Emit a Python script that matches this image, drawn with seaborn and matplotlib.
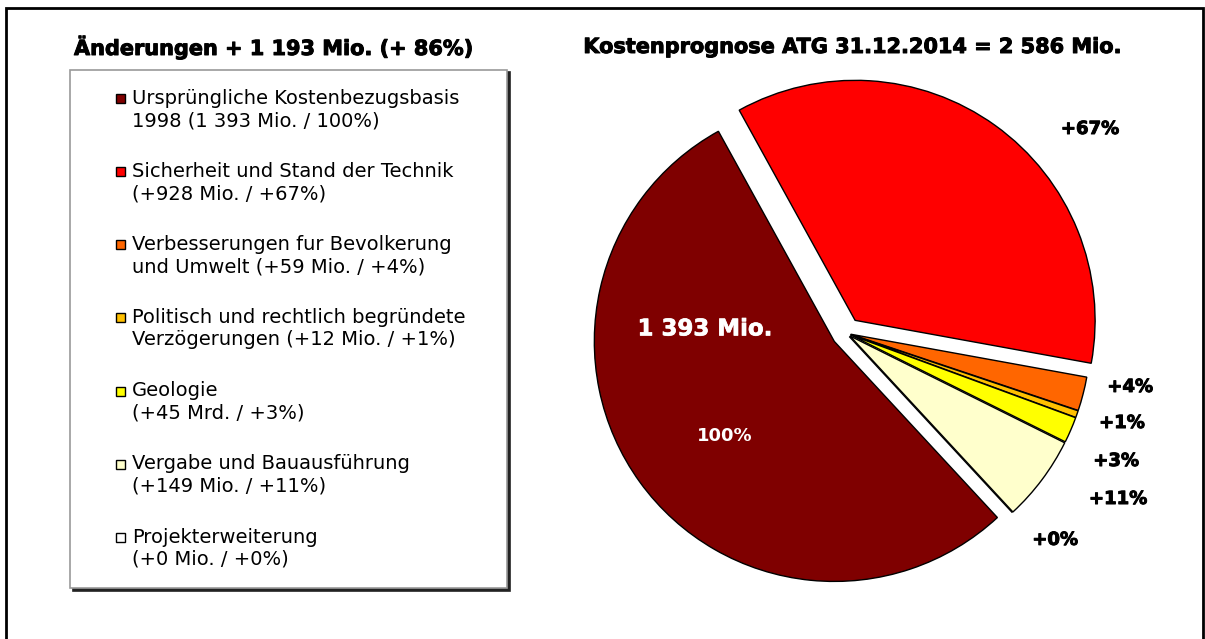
import matplotlib
matplotlib.use("Agg")
import matplotlib.pyplot as plt
import matplotlib.patheffects as pe
import seaborn as sns
import pandas as pd
from matplotlib.patches import Rectangle, Wedge
from matplotlib.legend_handler import HandlerPatch

# ---- data ----
categories = [
    "Ursprüngliche Kostenbezugsbasis\n1998 (1 393 Mio. / 100%)",
    "Sicherheit und Stand der Technik\n(+928 Mio. / +67%)",
    "Verbesserungen fur Bevolkerung\nund Umwelt (+59 Mio. / +4%)",
    "Politisch und rechtlich begründete\nVerzögerungen (+12 Mio. / +1%)",
    "Geologie\n(+45 Mrd. / +3%)",
    "Vergabe und Bauausführung\n(+149 Mio. / +11%)",
    "Projekterweiterung\n(+0 Mio. / +0%)",
]
values = [1393, 928, 59, 12, 45, 149, 0]
pct_labels = ["", "+67%", "+4%", "+1%", "+3%", "+11%", "+0%"]
base_label = "1 393 Mio."
base_pct = "100%"
title_left = "Änderungen + 1 193 Mio. (+ 86%)"
title_right = "Kostenprognose ATG 31.12.2014 = 2 586 Mio."

# ---- styles / layout ----
colors = ["#7f0000", "#ff0000", "#ff6600", "#ffc000", "#ffff00", "#ffffcc", "#ffffff"]
explode = [0.06, 0.065, 0.02, 0.02, 0.02, 0.02, 0.02]
label_pos = [None, (1.008, 0.843), (1.174, -0.223), (1.140, -0.372),
             (1.116, -0.529), (1.124, -0.686), (0.864, -0.855)]

sns.set_theme(style="white")
plt.rcParams["font.family"] = ["DejaVu Sans"]
plt.rcParams["text.color"] = "black"

df = pd.DataFrame({"category": categories, "value": values, "color": colors})

W, H = 1205, 639
fig = plt.figure(figsize=(W / 100, H / 100), dpi=100)
fig.patch.set_facecolor("white")

heavy = [pe.withStroke(linewidth=0.7, foreground="black")]
heavy_w = [pe.withStroke(linewidth=0.5, foreground="white")]

# pie axes: centre (846,332) px, radius 240 px
cx, cy, R = 846, 333, 240
left_px, right_px, top_px, bot_px = 560, 1180, 70, 625
ax = fig.add_axes([left_px / W, 1 - bot_px / H, (right_px - left_px) / W, (bot_px - top_px) / H])
wedges, texts = ax.pie(
    df["value"], colors=df["color"], labels=pct_labels, explode=explode,
    startangle=-47.2, counterclock=False, radius=1.0,
    wedgeprops=dict(edgecolor="black", linewidth=1.0),
    textprops=dict(fontsize=13, fontweight="bold", color="black"),
)
for t, pos in zip(texts, label_pos):
    if pos is not None:
        t.set_position((pos[0] * 242 / R, pos[1] * 242 / R))
        t.set_ha("center")
        t.set_va("center")
        t.set_path_effects(heavy)
ax.set_xlim((left_px - cx) / R, (right_px - cx) / R)
ax.set_ylim((cy - bot_px) / R, (cy - top_px) / R)
ax.set_aspect("equal")
ax.axis("off")
ax.text(-0.583 * 242 / R, 0.017, base_label, color="white", fontsize=16.5, fontweight="bold",
        ha="center", va="center", path_effects=heavy_w)
ax.text(-0.50 * 242 / R, -0.43, base_pct, color="white", fontsize=13, fontweight="bold",
        ha="center", va="center")

# titles
fig.text(274 / W, 1 - 47 / H, title_left, fontsize=15, fontweight="bold", ha="center",
         va="center", path_effects=heavy)
fig.text(853 / W, 1 - 47 / H, title_right, fontsize=15, fontweight="bold", ha="center",
         va="center", path_effects=heavy)


# legend with square markers aligned to first line
def square_patch(legend, orig_handle, xdescent, ydescent, width, height, fontsize):
    s = 6.5
    shift = 8.3
    return Rectangle((-xdescent + width - s, -ydescent + height / 2 - s / 2 + shift), s, s,
                     facecolor=orig_handle.get_facecolor(), edgecolor="black", linewidth=0.8)


leg = fig.legend(
    wedges, df["category"],
    loc="upper left",
    bbox_to_anchor=(70 / W, 1 - 76 / H, (507 - 70) / W, 0.01),
    mode="expand", borderaxespad=0, frameon=True, fancybox=False,
    fontsize=14, labelspacing=1.65, handlelength=1.84, handleheight=0.7,
    handletextpad=0.36, borderpad=1.0,
    handler_map={Wedge: HandlerPatch(patch_func=square_patch)},
    shadow={"color": "#222222", "alpha": 1.0},
)
leg.get_frame().set_edgecolor("#9a9a9a")
leg.get_frame().set_linewidth(1.2)
leg.get_frame().set_facecolor("white")

# outer border (open at bottom)
fig.add_artist(Rectangle((6 / W, -0.1), (1203 - 6) / W, 1.1 - 8 / H, transform=fig.transFigure,
                         fill=False, edgecolor="black", linewidth=2, clip_on=False))

fig.savefig("out.png", dpi=100, facecolor="white")
